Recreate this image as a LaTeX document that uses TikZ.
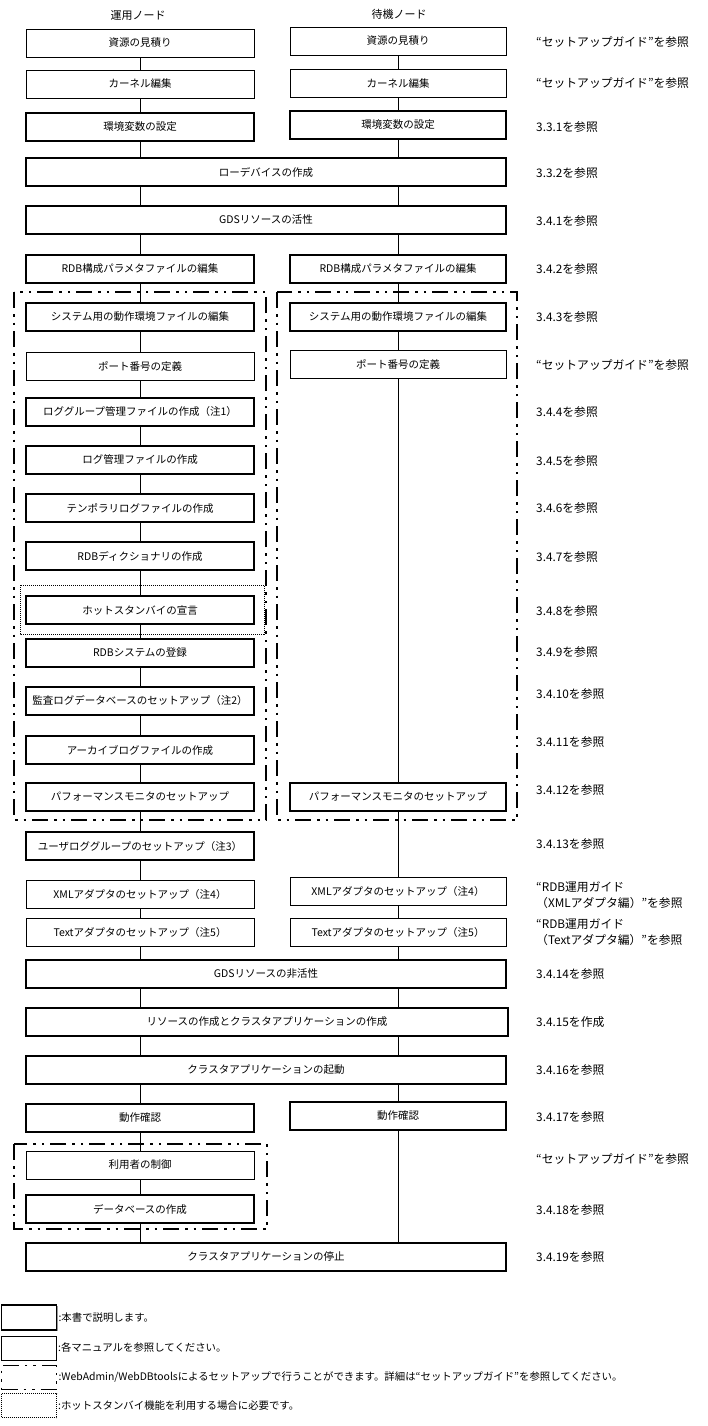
\documentclass[tikz,border=0pt]{standalone}
\usepackage{fontspec}
\setmainfont{Noto Sans CJK JP}
\usetikzlibrary{shadows}
\begin{document}
\begin{tikzpicture}[x=1pt,y=-1pt,
  boxbase/.style={draw, minimum height=28pt, inner sep=0pt, fill=white, font=\fontsize{10.5}{12}\selectfont},
  thk/.style={boxbase, line width=1.8pt, drop shadow={shadow xshift=1.2pt, shadow yshift=-1.2pt, fill=black!40, opacity=1}},
  thn/.style={boxbase, line width=0.9pt},
  lw/.style={minimum width=228pt},
  rw/.style={minimum width=216pt},
  ww/.style={minimum width=480pt},
  reftext/.style={anchor=west, inner sep=0pt, align=left, font=\fontsize{11.8}{16}\selectfont},
  conn/.style={line width=0.9pt},
  ddbox/.style={line width=1.7pt, dash pattern=on 16pt off 6pt on 2.5pt off 6pt on 2.5pt off 6pt},
  dotbox/.style={line width=1pt, dash pattern=on 1pt off 1pt},
  legtext/.style={anchor=west, inner sep=1pt, font=\fontsize{10.4}{12}\selectfont},
]
\useasboundingbox (0,0) rectangle (707,1426);
\coordinate (xl) at (140,0);
\coordinate (xr) at (398,0);

% headers
\node[font=\fontsize{11}{13}\selectfont] (h1) at (138,15) {運用ノード};
\node[font=\fontsize{11}{13}\selectfont] (h2) at (399,14) {待機ノード};

% group frames
\draw[ddbox] (14,292) rectangle (266,820);
\draw[ddbox] (277,292) rectangle (517,820);
\draw[ddbox] (14,1144) rectangle (267,1229);
\draw[dotbox] (20,585) rectangle (264,634);

% boxes
\node[thn,lw] (l1) at (140,43) {資源の見積り};
\node[thn,rw] (r1) at (398,41) {資源の見積り};
\node[thn,lw] (l2) at (140,84) {カーネル編集};
\node[thn,rw] (r2) at (398,83) {カーネル編集};
\node[thk,lw] (l3) at (140,127) {環境変数の設定};
\node[thk,rw] (r3) at (398,125) {環境変数の設定};
\node[thk,ww] (w4) at (266,172) {ローデバイスの作成};
\node[thk,ww] (w5) at (266,220) {GDSリソースの活性};
\node[thk,lw] (l6) at (140,269) {RDB構成パラメタファイルの編集};
\node[thk,rw] (r6) at (398,269) {RDB構成パラメタファイルの編集};
\node[thk,lw] (l7) at (140,317) {システム用の動作環境ファイルの編集};
\node[thk,rw] (r7) at (398,317) {システム用の動作環境ファイルの編集};
\node[thn,lw] (l8) at (140,366) {ポート番号の定義};
\node[thn,rw] (r8) at (398,364) {ポート番号の定義};
\node[thk,lw] (l9) at (140,412) {ロググループ管理ファイルの作成（注1）};
\node[thk,lw] (l10) at (140,460) {ログ管理ファイルの作成};
\node[thk,lw] (l11) at (140,508) {テンポラリログファイルの作成};
\node[thk,lw] (l12) at (140,556) {RDBディクショナリの作成};
\node[thk,lw] (l13) at (140,610) {ホットスタンバイの宣言};
\node[thk,lw] (l14) at (140,653) {RDBシステムの登録};
\node[thk,lw] (l15) at (140,701) {監査ログデータベースのセットアップ（注2）};
\node[thk,lw] (l16) at (140,750) {アーカイブログファイルの作成};
\node[thk,lw] (l17) at (140,797) {パフォーマンスモニタのセットアップ};
\node[thk,rw] (r17) at (398,797) {パフォーマンスモニタのセットアップ};
\node[thk,lw] (l18) at (140,846) {ユーザロググループのセットアップ（注3）};
\node[thn,lw] (l19) at (140,894) {XMLアダプタのセットアップ（注4）};
\node[thn,rw] (r19) at (398,891) {XMLアダプタのセットアップ（注4）};
\node[thn,lw] (l20) at (140,932) {Textアダプタのセットアップ（注5）};
\node[thn,rw] (r20) at (398,932) {Textアダプタのセットアップ（注5）};
\node[thk,ww] (w21) at (266,974) {GDSリソースの非活性};
\node[thk,ww,minimum width=482pt] (w22) at (267,1022) {リソースの作成とクラスタアプリケーションの作成};
\node[thk,ww] (w23) at (266,1070) {クラスタアプリケーションの起動};
\node[thk,lw] (l24) at (140,1118) {動作確認};
\node[thk,rw] (r24) at (398,1116) {動作確認};
\node[thn,lw] (l25) at (140,1165) {利用者の制御};
\node[thk,lw] (l26) at (140,1209) {データベースの作成};
\node[thk,ww] (w27) at (266,1257) {クラスタアプリケーションの停止};

% left connectors
\draw[conn] (l1.south) -- (l2.north);
\draw[conn] (l2.south) -- (l3.north);
\draw[conn] (l3.south) -- (w4.north -| xl);
\draw[conn] (w4.south -| xl) -- (w5.north -| xl);
\draw[conn] (w5.south -| xl) -- (l6.north);
\foreach \a/\b in {l6/l7,l7/l8,l8/l9,l9/l10,l10/l11,l11/l12,l12/l13,l13/l14,l14/l15,l15/l16,l16/l17,l17/l18,l18/l19,l19/l20,l24/l25,l25/l26}
  \draw[conn] (\a.south) -- (\b.north);
\draw[conn] (l20.south) -- (w21.north -| xl);
\draw[conn] (w21.south -| xl) -- (w22.north -| xl);
\draw[conn] (w22.south -| xl) -- (w23.north -| xl);
\draw[conn] (w23.south -| xl) -- (l24.north);
\draw[conn] (l26.south) -- (w27.north -| xl);

% right connectors
\draw[conn] (r1.south) -- (r2.north);
\draw[conn] (r2.south) -- (r3.north);
\draw[conn] (r3.south) -- (w4.north -| xr);
\draw[conn] (w4.south -| xr) -- (w5.north -| xr);
\draw[conn] (w5.south -| xr) -- (r6.north);
\foreach \a/\b in {r6/r7,r7/r8,r8/r17,r17/r19,r19/r20}
  \draw[conn] (\a.south) -- (\b.north);
\draw[conn] (r20.south) -- (w21.north -| xr);
\draw[conn] (w21.south -| xr) -- (w22.north -| xr);
\draw[conn] (w22.south -| xr) -- (w23.north -| xr);
\draw[conn] (w23.south -| xr) -- (r24.north);
\draw[conn] (r24.south) -- (w27.north -| xr);

% reference texts
\node[reftext] (t1) at (536,42) {“セットアップガイド”を参照};
\node[reftext] (t2) at (536,83) {“セットアップガイド”を参照};
\node[reftext] (t3) at (536,127) {3.3.1を参照};
\node[reftext] (t4) at (536,173) {3.3.2を参照};
\node[reftext] (t5) at (536,221) {3.4.1を参照};
\node[reftext] (t6) at (536,269) {3.4.2を参照};
\node[reftext] (t7) at (536,317) {3.4.3を参照};
\node[reftext] (t8) at (536,365) {“セットアップガイド”を参照};
\node[reftext] (t9) at (536,412) {3.4.4を参照};
\node[reftext] (t10) at (536,461) {3.4.5を参照};
\node[reftext] (t11) at (536,508) {3.4.6を参照};
\node[reftext] (t12) at (536,557) {3.4.7を参照};
\node[reftext] (t13) at (536,611) {3.4.8を参照};
\node[reftext] (t14) at (536,652) {3.4.9を参照};
\node[reftext] (t15) at (536,694) {3.4.10を参照};
\node[reftext] (t16) at (536,742) {3.4.11を参照};
\node[reftext] (t17) at (536,790) {3.4.12を参照};
\node[reftext] (t18) at (536,844) {3.4.13を参照};
\node[reftext] (t19) at (536,895) {“RDB運用ガイド\\（XMLアダプタ編）”を参照};
\node[reftext] (t20) at (536,932) {“RDB運用ガイド\\（Textアダプタ編）”を参照};
\node[reftext] (t21) at (536,974) {3.4.14を参照};
\node[reftext] (t22) at (536,1022) {3.4.15を作成};
\node[reftext] (t23) at (536,1070) {3.4.16を参照};
\node[reftext] (t24) at (536,1117) {3.4.17を参照};
\node[reftext] (t25) at (536,1159) {“セットアップガイド”を参照};
\node[reftext] (t26) at (536,1210) {3.4.18を参照};
\node[reftext] (t27) at (536,1257) {3.4.19を参照};

% legend
\node[thk, minimum width=55pt, minimum height=25pt] (lg1) at (29,1317.5) {};
\node[thn, minimum width=55pt, minimum height=24pt] (lg2) at (29,1348) {};
\node[ddbox, draw, minimum width=55pt, minimum height=24pt] (lg3) at (29,1377.5) {};
\node[dotbox, draw, minimum width=55pt, minimum height=24pt] (lg4) at (29,1405.5) {};
\node[legtext] (lt1) at (lg1.east) {:本書で説明します。};
\node[legtext] (lt2) at (lg2.east) {:各マニュアルを参照してください。};
\node[legtext] (lt3) at (lg3.east) {:WebAdmin/WebDBtoolsによるセットアップで行うことができます。詳細は“セットアップガイド”を参照してください。};
\node[legtext] (lt4) at (lg4.east) {:ホットスタンバイ機能を利用する場合に必要です。};
\end{tikzpicture}
\end{document}
